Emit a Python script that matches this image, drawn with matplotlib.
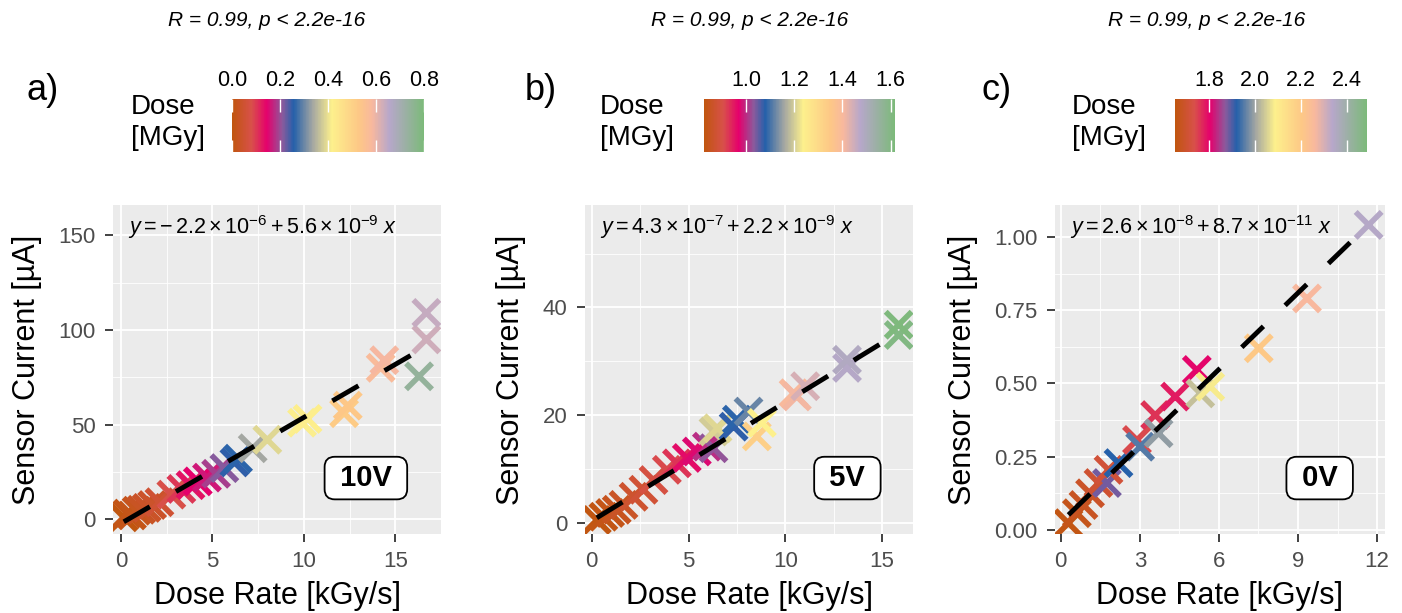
import matplotlib
matplotlib.use("Agg")
import matplotlib.pyplot as plt
import numpy as np
from matplotlib.colors import LinearSegmentedColormap, Normalize
from matplotlib.cm import ScalarMappable

plt.rcParams['font.family'] = ['Liberation Sans', 'DejaVu Sans']
plt.rcParams['mathtext.fontset'] = 'custom'
plt.rcParams['mathtext.rm'] = 'Liberation Sans'
plt.rcParams['mathtext.it'] = 'Liberation Sans:italic'

# ---------------- data ----------------
# panel a (10V)
rate_a = [0.15, 0.35, 0.6, 0.85, 1.1, 1.4, 1.7, 2.1, 2.75, 3.3, 3.8, 4.2, 4.7, 5.2,
          5.65, 6.2, 6.4, 7.2, 8.0, 9.9, 10.2, 12.2, 12.4, 14.2, 14.4, 16.3, 16.7, 16.7]
curr_a = [1, 3, 2, 4.5, 5, 6, 7.5, 9, 13, 16, 18, 20, 22, 24,
          27, 30, 32, 37.5, 42, 51, 53, 56, 60, 80, 84, 75.5, 95, 109]
dose_a = [0.0, 0.01, 0.015, 0.02, 0.03, 0.035, 0.04, 0.05, 0.08, 0.10, 0.13, 0.145, 0.16, 0.19,
          0.21, 0.25, 0.26, 0.335, 0.39, 0.415, 0.42, 0.52, 0.53, 0.575, 0.585, 0.74, 0.63, 0.64]

# panel b (5V)
rate_b = [0.26, 0.6, 0.95, 1.29, 1.64, 2.16, 2.67, 3.19, 3.88, 4.4, 4.91, 5.43, 5.95, 6.29,
          6.29, 6.5, 7.33, 7.5, 8.1, 8.53, 8.79, 10.43, 10.6, 11.03, 13.19, 13.19, 15.86, 15.86]
curr_b = [0.6, 1.2, 1.9, 2.5, 3.4, 4.9, 6.2, 8.0, 9.9, 11.1, 12.1, 13.3, 14.2, 13.9,
          17.0, 17.6, 17.9, 19.2, 20.7, 16.1, 18.6, 24.1, 23.5, 25.4, 28.8, 30.3, 34.9, 36.8]
dose_b = [0.83, 0.835, 0.84, 0.85, 0.86, 0.87, 0.88, 0.895, 0.91, 0.93, 0.96, 0.975, 1.0, 1.03,
          1.2, 1.21, 1.075, 1.085, 1.12, 1.33, 1.24, 1.40, 1.41, 1.44, 1.48, 1.49, 1.60, 1.61]

# panel c (0V)
rate_c = [0.29, 0.61, 0.86, 1.11, 1.43, 1.75, 1.81, 2.19, 2.89, 3.01, 3.58, 3.71, 4.34,
          5.16, 5.29, 5.67, 7.51, 9.34, 11.68]
curr_c = [0.023, 0.057, 0.085, 0.125, 0.16, 0.16, 0.205, 0.228, 0.307, 0.284, 0.392, 0.33, 0.455,
          0.546, 0.466, 0.489, 0.62, 0.79, 1.041]
dose_c = [1.66, 1.67, 1.68, 1.69, 1.70, 1.88, 1.71, 1.92, 1.74, 1.95, 1.76, 1.99, 1.78,
          1.80, 2.03, 2.08, 2.20, 2.26, 2.34]

# fitted lines (from the equations shown), in A and Gy/s
fit_a = (-2.2e-6, 5.6e-9)
fit_b = (4.3e-7, 2.2e-9)
fit_c = (2.6e-8, 8.7e-11)
eq_a = r"$y = -\,2.2 \times 10^{-6} + 5.6 \times 10^{-9}\ x$"
eq_b = r"$y = 4.3 \times 10^{-7} + 2.2 \times 10^{-9}\ x$"
eq_c = r"$y = 2.6 \times 10^{-8} + 8.7 \times 10^{-11}\ x$"

bias = ["10V", "5V", "0V"]
letters = ["a)", "b)", "c)"]
cor_text = "R = 0.99, p < 2.2e-16"

dose_ticks_a = [0.0, 0.2, 0.4, 0.6, 0.8]
dose_ticks_b = [1.0, 1.2, 1.4, 1.6]
dose_ticks_c = [1.8, 2.0, 2.2, 2.4]

# ---------------- style ----------------
cmap = LinearSegmentedColormap.from_list("dose", [
    (0.00, "#C0560F"), (0.10, "#D8504A"), (0.18, "#E5006C"), (0.26, "#8C5A9C"),
    (0.32, "#2460AA"), (0.42, "#A5A7A2"), (0.52, "#FDF08C"), (0.66, "#FDC886"),
    (0.73, "#F8B89E"), (0.82, "#B7A7CA"), (1.00, "#7CBA7A")])

W, H = 1402, 613
fig = plt.figure(figsize=(W / 100, H / 100), dpi=100)

def fx(px):
    return px / W

def fy(px):
    return 1 - px / H

panels = [
    dict(rate=rate_a, curr=curr_a, dose=dose_a, fit=fit_a, eq=eq_a, ticks=dose_ticks_a,
         norm=(0.0, 0.8), left=113, width=328, xlim=(-0.44, 17.5), ylim=(-7.8, 166),
         xmaj=[0, 5, 10, 15], xmin=[2.5, 7.5, 12.5], ymaj=[0, 50, 100, 150], ymin=[25, 75, 125],
         ylab=["0", "50", "100", "150"], cb_left=232, cb_w=192, dtitle=131, letter=43, cor=267,
         box=(0.771, 0.17)),
    dict(rate=rate_b, curr=curr_b, dose=dose_b, fit=fit_b, eq=eq_b, ticks=dose_ticks_b,
         norm=(0.826, 1.618), left=585, width=328, xlim=(-0.35, 16.6), ylim=(-2.0, 59),
         xmaj=[0, 5, 10, 15], xmin=[2.5, 7.5, 12.5], ymaj=[0, 20, 40], ymin=[10, 30, 50],
         ylab=["0", "20", "40"], cb_left=704, cb_w=191, dtitle=600, letter=541, cor=750,
         box=(0.80, 0.17)),
    dict(rate=rate_c, curr=curr_c, dose=dose_c, fit=fit_c, eq=eq_c, ticks=dose_ticks_c,
         norm=(1.651, 2.486), left=1055, width=330, xlim=(-0.22, 12.3), ylim=(-0.014, 1.109),
         xmaj=[0, 3, 6, 9, 12], xmin=[1.5, 4.5, 7.5, 10.5], ymaj=[0, 0.25, 0.5, 0.75, 1.0],
         ymin=[0.125, 0.375, 0.625, 0.875],
         ylab=["0.00", "0.25", "0.50", "0.75", "1.00"], cb_left=1175, cb_w=192, dtitle=1072,
         letter=997, cor=1207, box=(0.802, 0.17)),
]

for i, p in enumerate(panels):
    ax = fig.add_axes([fx(p["left"]), fy(534), fx(p["width"]), 329 / H])
    ax.set_facecolor("#EBEBEB")
    for s in ax.spines.values():
        s.set_visible(False)
    ax.set_xlim(p["xlim"])
    ax.set_ylim(p["ylim"])
    ax.set_xticks(p["xmaj"])
    ax.set_xticks(p["xmin"], minor=True)
    ax.set_yticks(p["ymaj"])
    ax.set_yticks(p["ymin"], minor=True)
    ax.set_yticklabels(p["ylab"])
    ax.grid(which="major", color="white", lw=1.3)
    ax.grid(which="minor", color="white", lw=0.6)
    ax.set_axisbelow(True)
    ax.tick_params(which="major", length=5.5, width=1.3, color="#333333",
                   labelsize=16, labelcolor="#4D4D4D", pad=7)
    ax.tick_params(which="minor", length=0)
    ax.set_xlabel("Dose Rate [kGy/s]", fontsize=22, labelpad=6)
    ax.set_ylabel("Sensor Current [µA]", fontsize=22, labelpad=12)

    norm = Normalize(*p["norm"])
    ax.scatter(p["rate"], p["curr"], c=p["dose"], cmap=cmap, norm=norm,
               marker="x", s=350, linewidths=4.0, zorder=2)

    # regression line over the data range (coefficients in A vs Gy/s)
    b0, b1 = p["fit"]
    xr = np.array([min(p["rate"]), max(p["rate"])])
    yr = (b0 + b1 * xr * 1000) * 1e6
    ax.plot(xr, yr, color="black", lw=3.5, dashes=(6.2, 6.2),
            solid_capstyle="butt", dash_capstyle="butt", zorder=3)

    ax.text(0.045, 0.933, p["eq"], transform=ax.transAxes, fontsize=15.5,
            ha="left", va="center")
    ax.text(p["box"][0], p["box"][1], " " + bias[i] + " ", transform=ax.transAxes,
            fontsize=21, fontweight="bold", ha="center", va="center", zorder=4,
            bbox=dict(boxstyle="round,pad=0.25,rounding_size=0.35", fc="white",
                      ec="black", lw=1.3))

    # dose colour bar
    cax = fig.add_axes([fx(p["cb_left"]), fy(152), fx(p["cb_w"]), 53 / H])
    cb = fig.colorbar(ScalarMappable(norm=norm, cmap=cmap), cax=cax,
                      orientation="horizontal", ticklocation="top")
    cb.outline.set_visible(False)
    cb.set_ticks(p["ticks"])
    cb.set_ticklabels([f"{t:.1f}" for t in p["ticks"]])
    cax.tick_params(top=True, bottom=True, direction="in", color="white",
                    length=9, width=1.0, labeltop=True, labelbottom=False,
                    labelsize=15.5, pad=6)

    fig.text(fx(p["dtitle"]), fy(107), "Dose", fontsize=20, ha="left", va="center")
    fig.text(fx(p["dtitle"]), fy(138), "[MGy]", fontsize=20, ha="left", va="center")
    fig.text(fx(p["letter"]), fy(90), letters[i], fontsize=26, ha="center", va="center")
    fig.text(fx(p["cor"]), fy(20), cor_text, fontsize=15, style="italic",
             ha="center", va="center")

fig.savefig("out.png", dpi=100)
